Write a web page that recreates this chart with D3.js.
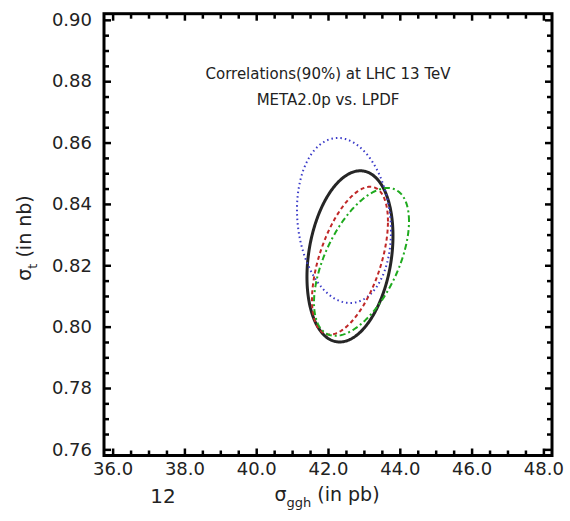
<!DOCTYPE html>
<html>
<head>
<meta charset="utf-8">
<script src="https://cdn.jsdelivr.net/npm/d3@7"></script>
<style>
  html, body { margin: 0; padding: 0; background: #fff; }
  svg { display: block; }
  text { font-family: "DejaVu Sans", "Liberation Sans", Arial, sans-serif; fill: #222; }
</style>
</head>
<body>
<svg id="chart" width="570" height="521"></svg>
<script>
// ---- data ----
const xMajorTicks = [36, 38, 40, 42, 44, 46, 48];
const yMajorTicks = [0.76, 0.78, 0.80, 0.82, 0.84, 0.86, 0.88, 0.90];
const xDomain = [35.76, 48.24];
const yDomain = [0.758, 0.902];

const ellipseNames   = ["blue dotted", "black solid", "red dashed", "green dot-dashed"];
const ellipseCenterX = [42.445, 42.612, 42.612, 42.933];
const ellipseCenterY = [0.8346, 0.8229, 0.8215, 0.8211];
const ellipseHalfX   = [1.309, 1.198, 1.058, 1.323];
const ellipseHalfY   = [0.0269, 0.0279, 0.0241, 0.0241];
const ellipseRho     = [-0.13, 0.24, 0.53, 0.55];

const titleLines = ["Correlations(90%) at LHC 13 TeV", "META2.0p vs. LPDF"];

// ---- layout ----
const svg = d3.select("#chart");
const L = 104, R = 552, T = 13.7, B = 455.5;
const x = d3.scaleLinear().domain(xDomain).range([L, R]);
const y = d3.scaleLinear().domain(yDomain).range([B, T]);

const styles = [
  { color: "#3a3ac8", width: 2, dash: "1.5,3" },
  { color: "#262626", width: 3, dash: null },
  { color: "#c02828", width: 2, dash: "4,3" },
  { color: "#1faa1f", width: 2, dash: "6,3,2,3" }
];

// ellipses
const line = d3.line().x(d => x(d[0])).y(d => y(d[1]));
const order = [1, 0, 2, 3];
order.forEach(i => {
  const phi = Math.acos(ellipseRho[i]);
  const pts = d3.range(0, 361).map(k => {
    const t = k * Math.PI / 180;
    return [ellipseCenterX[i] + ellipseHalfX[i] * Math.cos(t),
            ellipseCenterY[i] + ellipseHalfY[i] * Math.cos(t - phi)];
  });
  svg.append("path")
    .attr("d", line(pts) + "Z")
    .attr("fill", "none")
    .attr("stroke", styles[i].color)
    .attr("stroke-width", styles[i].width)
    .attr("stroke-dasharray", styles[i].dash)
    .attr("class", "ellipse " + ellipseNames[i].replace(/\s/g, "-"));
});

// axes (ticks inward on all four sides)
const xMinor = d3.range(36, 48.01, 0.5).filter(v => !xMajorTicks.some(m => Math.abs(m - v) < 1e-6));
const yMinor = d3.range(0.76, 0.9001, 0.005).filter(v => !yMajorTicks.some(m => Math.abs(m - v) < 1e-6));

function addAxis(axisGen, transform, labels) {
  const g = svg.append("g").attr("transform", transform).call(axisGen);
  g.select(".domain").remove();
  g.selectAll("line").attr("stroke", "#000").attr("stroke-width", 2.5);
  g.selectAll("text").attr("font-size", 18).attr("fill", "#222");
  if (!labels) g.selectAll("text").remove();
  return g;
}
// bottom
addAxis(d3.axisBottom(x).tickValues(xMajorTicks).tickSize(-7).tickPadding(7).tickFormat(d3.format(".1f")), `translate(0,${B})`, true);
addAxis(d3.axisBottom(x).tickValues(xMinor).tickSize(-5).tickFormat(""), `translate(0,${B})`, false);
// top
addAxis(d3.axisTop(x).tickValues(xMajorTicks).tickSize(-7), `translate(0,${T})`, false);
addAxis(d3.axisTop(x).tickValues(xMinor).tickSize(-5), `translate(0,${T})`, false);
// left
addAxis(d3.axisLeft(y).tickValues(yMajorTicks).tickSize(-7).tickPadding(12).tickFormat(d3.format(".2f")), `translate(${L},0)`, true);
addAxis(d3.axisLeft(y).tickValues(yMinor).tickSize(-5).tickFormat(""), `translate(${L},0)`, false);
// right
addAxis(d3.axisRight(y).tickValues(yMajorTicks).tickSize(-7), `translate(${R},0)`, false);
addAxis(d3.axisRight(y).tickValues(yMinor).tickSize(-5), `translate(${R},0)`, false);

// frame
svg.append("rect").attr("x", L).attr("y", T).attr("width", R - L).attr("height", B - T)
  .attr("fill", "none").attr("stroke", "#000").attr("stroke-width", 3);

// title text inside plot
titleLines.forEach((s, i) => {
  svg.append("text").attr("x", 328).attr("y", 79 + i * 26)
    .attr("text-anchor", "middle").attr("font-size", 15).text(s);
});

// x axis title
const xt = svg.append("text").attr("x", 327).attr("y", 501).attr("text-anchor", "middle").attr("font-size", 19);
xt.append("tspan").text("σ");
xt.append("tspan").attr("dy", 6).attr("font-size", 13).text("ggh");
xt.append("tspan").attr("dy", -6).text(" (in pb)");

// stray label
svg.append("text").attr("x", 163).attr("y", 503).attr("text-anchor", "middle").attr("font-size", 20).text("12");

// y axis title
const yt = svg.append("text").attr("transform", "translate(31,238) rotate(-90)").attr("text-anchor", "middle").attr("font-size", 19);
yt.append("tspan").text("σ");
yt.append("tspan").attr("dy", 6).attr("font-size", 13).text("t");
yt.append("tspan").attr("dy", -6).text(" (in nb)");
</script>
</body>
</html>
